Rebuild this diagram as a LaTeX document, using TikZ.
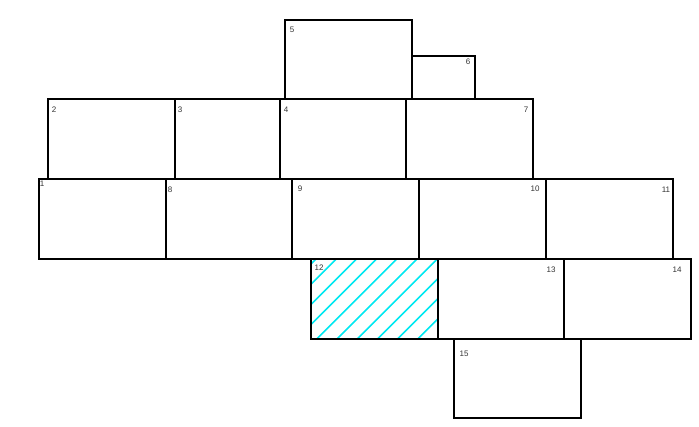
\documentclass[tikz,border=0pt]{standalone}
\usepackage{fontspec}
\setmainfont{Liberation Sans}
\usetikzlibrary{positioning,backgrounds}
\definecolor{hatchCyan}{HTML}{00E8F0}

\begin{document}
\begin{tikzpicture}[x=1pt, y=-1pt, font=\fontsize{8}{9}\selectfont,
          cell/.style={draw, line width=2pt, minimum width=127pt, minimum height=80pt, inner sep=0pt, outer sep=0pt, anchor=north west},
          num/.style={inner sep=0pt, text=black!80},
          hatch/.style={draw=hatchCyan, line width=1.6pt}]
        \useasboundingbox (0,0) rectangle (699,426);
        % top row
        \node[cell, minimum height=79pt] (c5) at (285,20) {};
        \node[cell, anchor=south west, minimum width=63pt, minimum height=43pt] (c6) at (c5.south east) {};
        % second row
        \node[cell] (c2) at (48,99) {};
        \node[cell, minimum width=105pt, right=0pt of c2] (c3) {};
        \node[cell, minimum width=126pt, right=0pt of c3] (c4) {};
        \node[cell, right=0pt of c4] (c7) {};
        % third row
        \node[cell] (c1) at (39,179) {};
        \node[cell, minimum width=126pt, right=0pt of c1] (c8) {};
        \node[cell, right=0pt of c8] (c9) {};
        \node[cell, right=0pt of c9] (c10) {};
        \node[cell, right=0pt of c10] (c11) {};
        % fourth row
        \node[cell] (c12) at (311,259) {};
        \node[cell, minimum width=126pt, right=0pt of c12] (c13) {};
        \node[cell, right=0pt of c13] (c14) {};
        \node[cell, minimum height=79pt] (c15) at (454,339) {};
        % hatched cell
        \begin{scope}[on background layer]
          \clip (c12.north west) rectangle (c12.south east);
          \foreach \k in {0,...,10}
            \draw[hatch] ({575+20.2*\k-349},349) -- ({575+20.2*\k-249},249);
        \end{scope}
        % numbers
        \node[num] (t1) at (42,184) {1};
        \node[num] (t2) at (54,110) {2};
        \node[num] (t3) at (180,110) {3};
        \node[num] (t4) at (286,110) {4};
        \node[num] (t5) at (292,30) {5};
        \node[num] (t6) at (468,62) {6};
        \node[num] (t7) at (526,110) {7};
        \node[num] (t8) at (170,190) {8};
        \node[num] (t9) at (300,189) {9};
        \node[num] (t10) at (535,189) {10};
        \node[num] (t11) at (666,190) {11};
        \node[num] (t12) at (319,268) {12};
        \node[num] (t13) at (551,270) {13};
        \node[num] (t14) at (677,270) {14};
        \node[num] (t15) at (464,354) {15};
      \end{tikzpicture}
\end{document}
